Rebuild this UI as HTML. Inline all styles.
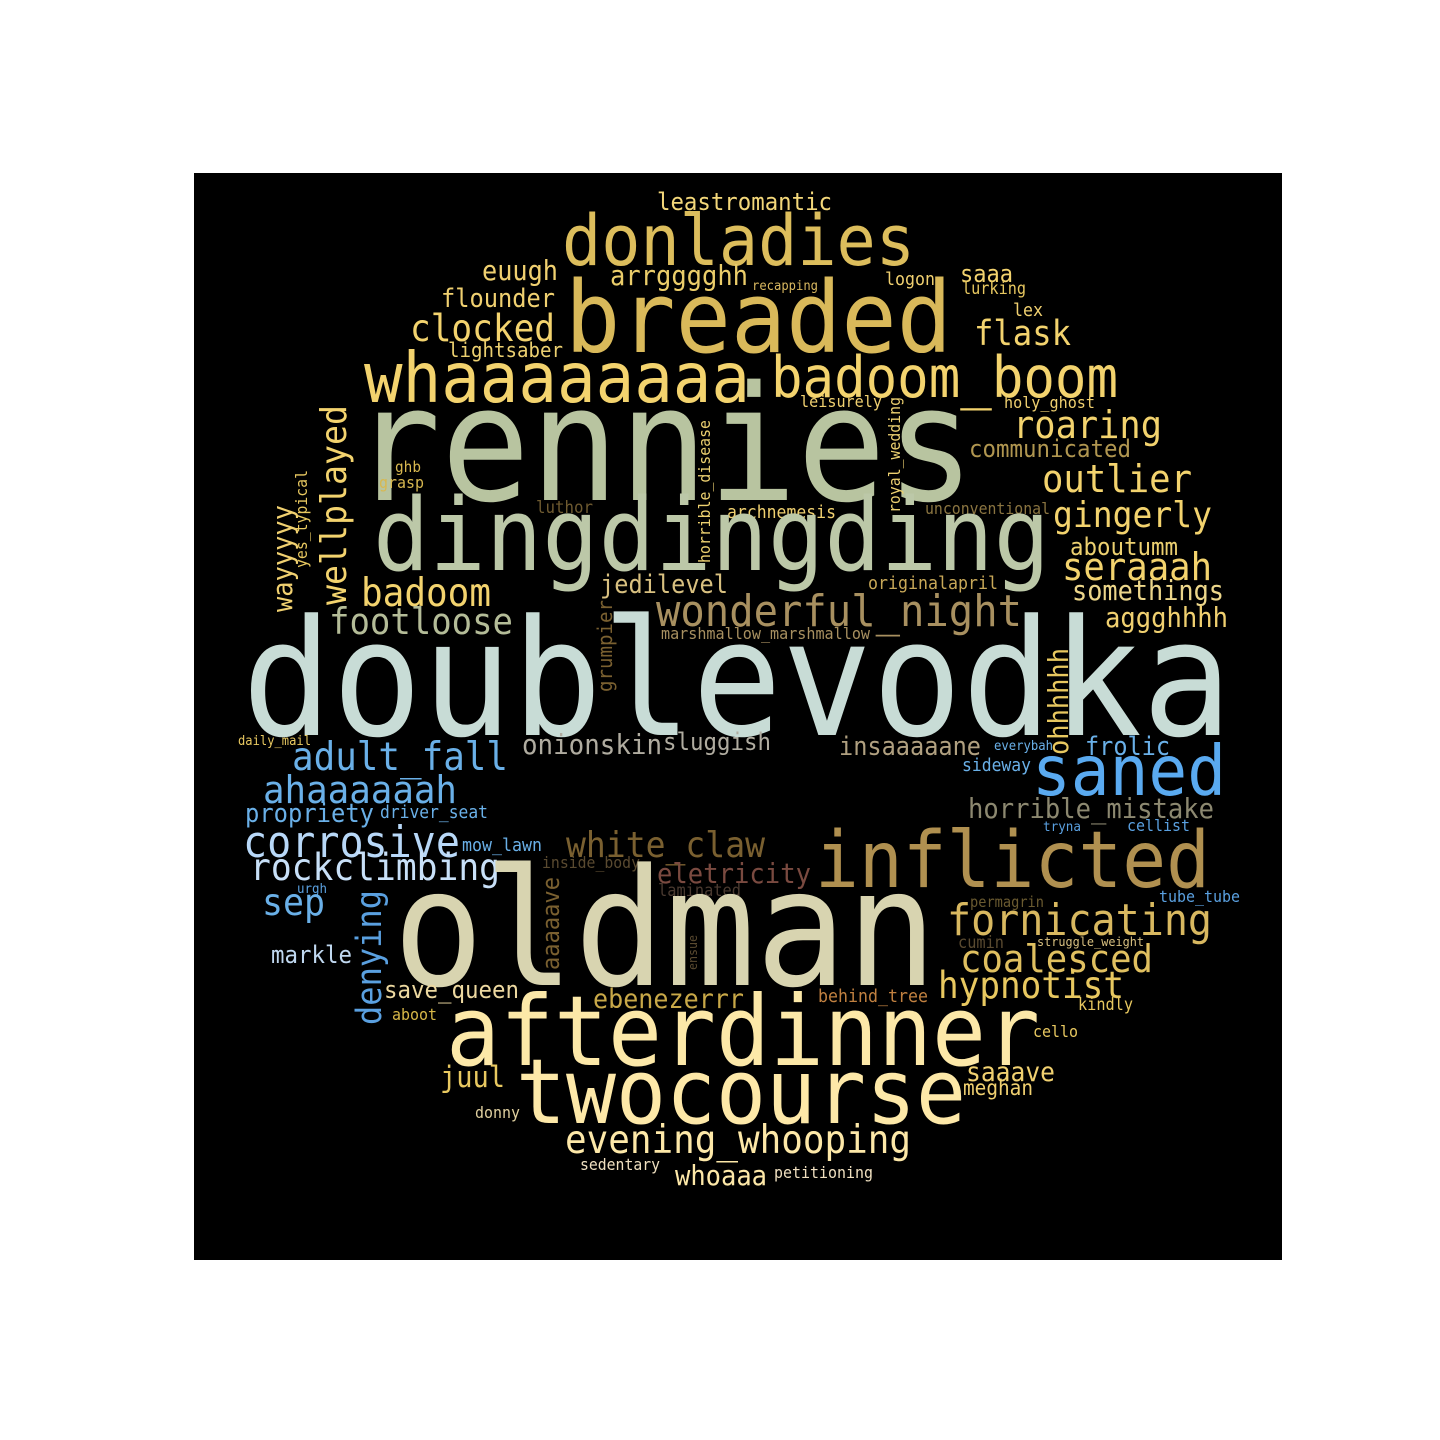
<!DOCTYPE html>
<html><head><meta charset="utf-8"><style>
html,body{margin:0;padding:0;background:#fff;width:1440px;height:1440px;overflow:hidden}
svg{position:absolute;left:0;top:0}
text{font-family:"DejaVu Sans Mono","Liberation Mono",monospace}
</style></head><body>
<svg id="cloud" width="1440" height="1440" viewBox="0 0 1440 1440" xmlns="http://www.w3.org/2000/svg">
<rect x="194" y="173" width="1088" height="1087" fill="#000"/>
<g id="words"></g>
</svg>
<script>
// [word, left/start x, baseline y (or bottom y for vertical), length px, color, vertical]
const W = [
["leastromantic",657,210,175,"#f3d77a",0],
["donladies",562,265,353,"#dcbd5c",0],
["euugh",482,280,76,"#f0d070",0],
["arrgggghh",610,285,138,"#ebcd6a",0],
["recapping",752,290,66,"#d9b860",0],
["logon",885,285,50,"#f0d070",0],
["saaa",960,282,53,"#f3d36e",0],
["lurking",962,294,64,"#e8c860",0],
["flounder",441,307,114,"#f0d070",0],
["breaded",565,352,387,"#d9b95a",0],
["lex",1013,316,30,"#f0d070",0],
["clocked",410,341,145,"#f3d36e",0],
["flask",974,345,97,"#f3d36e",0],
["lightsaber",448,357,115,"#ecd070",0],
["whaaaaaaaa",364,402,386,"#f3d36e",0],
["badoom_boom",771,397,347,"#f3d36e",0],
["leisurely",800,407,82,"#f0d070",0],
["holy_ghost",1004,408,91,"#f0d070",0],
["rennies",352,500,623,"#b8c4a0",0],
["roaring",1013,438,149,"#f3d36e",0],
["communicated",969,457,162,"#b09650",0],
["ghb",395,472,26,"#d8b850",0],
["grasp",379,488,45,"#d8b850",0],
["outlier",1042,492,150,"#f3d36e",0],
["luthor",536,513,57,"#6e5a30",0],
["archnemesis",727,518,109,"#f0d070",0],
["unconventional",925,514,125,"#8a7440",0],
["gingerly",1053,527,159,"#f3d36e",0],
["dingdingding",373,570,677,"#bcc8a8",0],
["aboutumm",1070,555,108,"#ecd070",0],
["seraaah",1062,580,150,"#f3d36e",0],
["originalapril",868,589,130,"#c8a858",0],
["jedilevel",600,593,128,"#d8c080",0],
["badoom",361,606,130,"#f3d36e",0],
["somethings",1072,600,152,"#ecd68a",0],
["wonderful_night",656,626,366,"#a89060",0],
["footloose",329,634,184,"#b4bc98",0],
["aggghhhh",1105,627,123,"#f0d070",0],
["marshmallow_marshmallow",661,639,209,"#a89060",0],
["doublevodka",242,735,990,"#c8dcd6",0],
["daily_mail",238,745,73,"#e8c860",0],
["adult_fall",292,770,216,"#6ab0e8",0],
["onionskin",522,754,140,"#b0aca0",0],
["sluggish",663,750,108,"#b0aca0",0],
["insaaaaane",839,755,142,"#b0a080",0],
["everybah",994,750,59,"#6ab0e8",0],
["frolic",1085,755,85,"#6ab0e8",0],
["sideway",962,771,69,"#6ab0e8",0],
["saned",1032,795,194,"#5aaaf0",0],
["ahaaaaaah",263,803,194,"#6ab0e8",0],
["propriety",245,822,129,"#6ab0e8",0],
["driver_seat",380,818,108,"#6ab0e8",0],
["horrible_mistake",968,818,246,"#8c8870",0],
["tryna",1043,831,38,"#5aa0e0",0],
["cellist",1127,831,63,"#5aa0e0",0],
["corrosive",243,857,217,"#b8d8f8",0],
["mow_lawn",462,851,80,"#6ab0e8",0],
["white_claw",566,857,199,"#7a6030",0],
["inside_body",542,868,98,"#5a4a30",0],
["inflicted",815,887,395,"#b09050",0],
["rockclimbing",250,880,250,"#c8e0f8",0],
["eletricity",657,883,154,"#7a4a40",0],
["urgh",297,893,30,"#5aa0e0",0],
["laminated",658,896,83,"#4a3a30",0],
["tube_tube",1159,902,81,"#5aa0e0",0],
["sep",262,915,63,"#6ab0e8",0],
["permagrin",970,907,74,"#6a5a30",0],
["oldman",393,985,544,"#d8d4b0",0],
["fornicating",947,935,265,"#d8b860",0],
["cumin",958,948,46,"#5a4a30",0],
["struggle_weight",1037,946,107,"#d8c080",0],
["markle",271,963,81,"#c0d8f0",0],
["coalesced",960,972,193,"#e0c060",0],
["hypnotist",938,998,186,"#e8c860",0],
["save_queen",384,998,135,"#ecd8a0",0],
["behind_tree",818,1002,110,"#c08040",0],
["ebenezerrr",593,1008,151,"#c8a848",0],
["kindly",1078,1010,55,"#e8c860",0],
["aboot",392,1020,45,"#d8b848",0],
["cello",1033,1037,45,"#e8c860",0],
["afterdinner",446,1065,594,"#fce8a8",0],
["juul",440,1087,65,"#e8c860",0],
["saaave",966,1081,89,"#f0d070",0],
["meghan",963,1095,70,"#f0d070",0],
["donny",475,1118,45,"#e0d0a0",0],
["twocourse",516,1123,450,"#fde8a8",0],
["evening_whooping",565,1153,346,"#fde8a8",0],
["sedentary",580,1170,80,"#f0e0c0",0],
["whoaaa",675,1185,92,"#fde8a8",0],
["petitioning",774,1178,99,"#f0e0c0",0],
["wellplayed",346,605,200,"#f3d36e",1],
["wayyyyy",292,612,107,"#f0d070",1],
["yes_typical",307,568,98,"#e8c860",1],
["horrible_disease",710,563,143,"#ecd070",1],
["royal_wedding",900,513,116,"#ecd070",1],
["grumpier",612,692,92,"#7a6030",1],
["ohhhhhh",1068,755,107,"#e8c860",1],
["denying",381,1025,135,"#5aa0e0",1],
["aaaaave",559,970,93,"#7a6030",1],
["ensue",697,970,35,"#5a4a30",1]
];
const g = document.getElementById('words');
const NS = 'http://www.w3.org/2000/svg';
W.forEach(function(w){
  const t = document.createElementNS(NS,'text');
  const fs = 1.08 * w[3]/(0.602*w[0].length);
  t.setAttribute('font-size', fs.toFixed(1));
  t.setAttribute('fill', w[4]);
  t.setAttribute('textLength', w[3]);
  t.setAttribute('lengthAdjust', 'spacingAndGlyphs');
  if (w[5]) {
    t.setAttribute('x', 0); t.setAttribute('y', 0);
    t.setAttribute('transform', 'translate(' + w[1] + ',' + w[2] + ') rotate(-90)');
  } else {
    t.setAttribute('x', w[1]); t.setAttribute('y', w[2]);
  }
  t.textContent = w[0];
  
  
  g.appendChild(t);
});
</script>
</body></html>
